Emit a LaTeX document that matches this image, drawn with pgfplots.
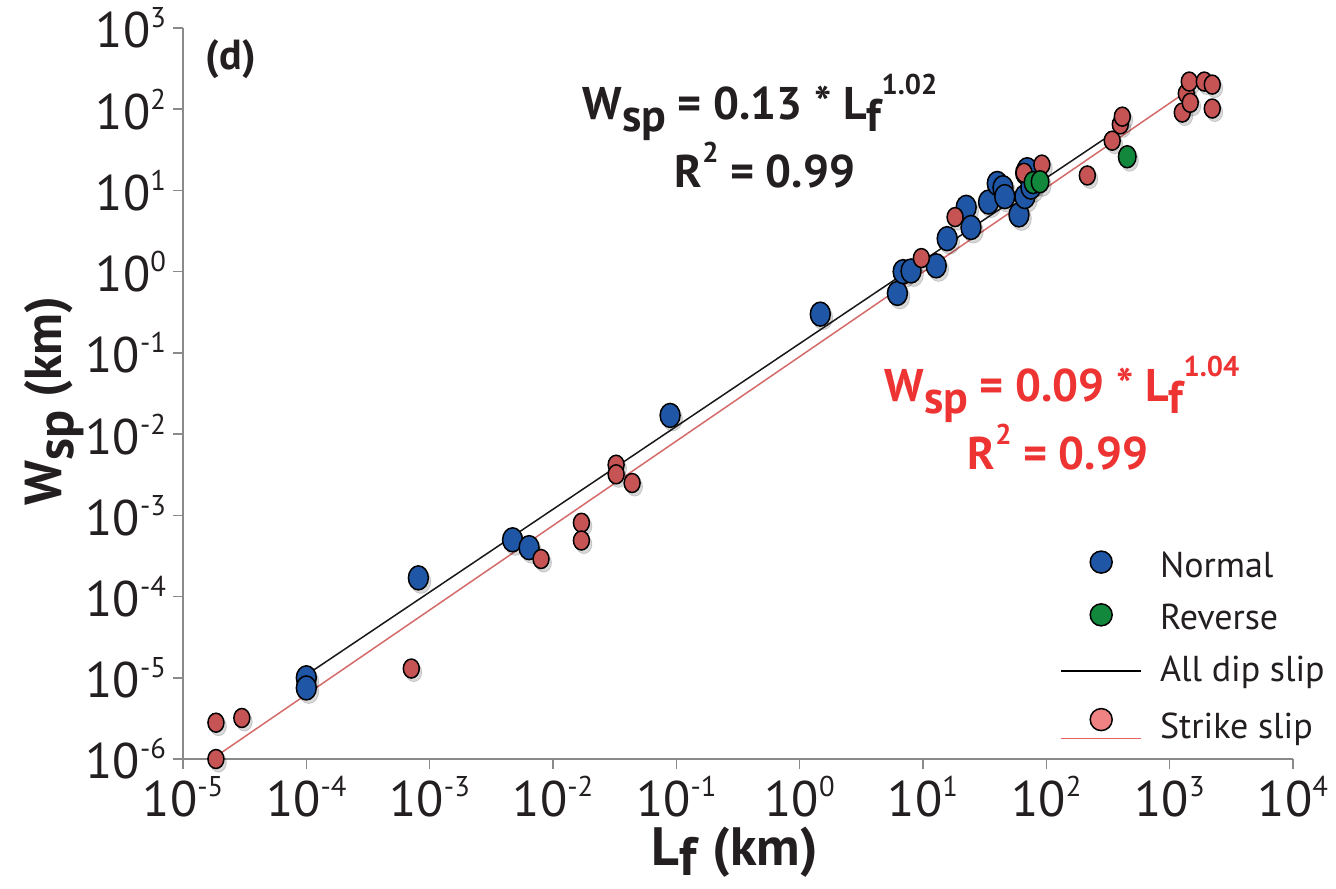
\documentclass[border=0pt]{standalone}
\usepackage{fontspec}
\setmainfont{PT Sans}
\usepackage{pgfplots}
\usepackage{pgfplotstable}
\pgfplotsset{compat=1.18}

\definecolor{nblue}{HTML}{1F56A6}
\definecolor{sred}{HTML}{C65454}
\definecolor{rgreen}{HTML}{12883D}
\definecolor{axgray}{HTML}{8A8A8A}
\definecolor{txt}{HTML}{231F20}
\definecolor{eqred}{HTML}{EE3333}
\definecolor{lred}{HTML}{D46A6A}
\definecolor{legred}{HTML}{EF8282}
\definecolor{leglred}{HTML}{E86060}

\newcommand\tl[1]{10\raisebox{10pt}{\fontsize{14.3}{14.3}\selectfont #1}}
\newcommand\subx[1]{\raisebox{-6pt}{#1}}
\newcommand\supx[1]{\raisebox{12.5pt}{\fontsize{14.3}{14.3}\selectfont #1}}

\pgfplotstableread{
x y
1e-4 1.0e-5
1e-4 7.5e-6
8.1e-4 1.7e-4
4.7e-3 5.0e-4
6.4e-3 4.0e-4
0.089 0.017
1.47 0.30
6.2 0.54
6.9 1.0
8.0 1.02
12.8 1.18
15.7 2.55
22.4 6.2
24.5 3.5
34 7.2
40 12.2
44.5 10.8
46 8.4
60 5.0
67 8.4
68 16.5
70 18
75 11
}\normaltab

\pgfplotstableread{
x y
1.85e-5 1.0e-6
1.85e-5 2.8e-6
3.0e-5 3.2e-6
7.1e-4 1.3e-5
8.0e-3 2.9e-4
0.017 8.1e-4
0.017 4.9e-4
0.0325 4.2e-3
0.0325 3.2e-3
0.0438 2.5e-3
9.7 1.47
18.2 4.7
66 16.5
92 20.8
215 15.3
342 41
398 65
413 81
1265 91
1364 156
1442 219
1469 120
1909 219
2215 201
2215 102
}\striketab

\pgfplotstableread{
x y
78 12.5
89 12.8
453 26
}\reversetab

\begin{document}
\begin{tikzpicture}[x=1pt,y=1pt]
\useasboundingbox (-91.5,-64.5) rectangle (576.5,379.5);
\begin{axis}[
  at={(0,0)}, anchor=south west,
  scale only axis, width=555pt, height=365.5pt,
  xmode=log, ymode=log,
  xmin=1e-5, xmax=1e4, ymin=1e-6, ymax=1e3,
  axis lines*=left,
  axis line style={draw=axgray, line width=0.75pt},
  tick style={draw=axgray, line width=0.75pt},
  tick align=outside, major tick length=5pt,
  xminorticks=false, yminorticks=false,
  xtick={1e-5,1e-4,1e-3,1e-2,1e-1,1,10,100,1000,10000},
  xticklabels={\tl{-5},\tl{-4},\tl{-3},\tl{-2},\tl{-1},\tl{0},\tl{1},\tl{2},\tl{3},\tl{4}},
  ytick={1e-6,1e-5,1e-4,1e-3,1e-2,1e-1,1,10,100,1000},
  yticklabels={\tl{-6},\tl{-5},\tl{-4},\tl{-3},\tl{-2},\tl{-1},\tl{0},\tl{1},\tl{2},\tl{3}},
  ticklabel style={font=\fontsize{25}{25}\selectfont, text=txt},
  clip=false,
  legend style={at={(axis description cs:0.79,0.286)}, anchor=north west,
    draw=none, fill=none, inner sep=0pt, row sep=9pt, column sep=9pt,
    font=\fontsize{18}{18}\selectfont,
    nodes={inner sep=0pt, text height=13pt, text depth=4pt, text=txt}},
  legend cell align=left,
]
% shadows
\addplot[forget plot, only marks, mark=*, mark size=6pt, mark options={xscale=0.83, fill=black, draw=none, opacity=0.15, xshift=1.5pt, yshift=-1.8pt}] table {\normaltab};
\addplot[forget plot, only marks, mark=*, mark size=4.75pt, mark options={xscale=0.84, fill=black, draw=none, opacity=0.15, xshift=1.5pt, yshift=-1.8pt}] table {\striketab};
\addplot[forget plot, only marks, mark=*, mark size=5.5pt, mark options={xscale=0.8, fill=black, draw=none, opacity=0.15, xshift=1.5pt, yshift=-1.8pt}] table {\reversetab};
% markers
\addplot[forget plot, only marks, mark=*, mark size=6pt, mark options={xscale=0.83, fill=nblue, draw=black, line width=0.75pt}] table {\normaltab};
\addplot[forget plot, only marks, mark=*, mark size=4.75pt, mark options={xscale=0.84, fill=sred, draw=black, line width=0.75pt}] table {\striketab};
\addplot[forget plot, only marks, mark=*, mark size=5.5pt, mark options={xscale=0.8, fill=rgreen, draw=black, line width=0.75pt}] table {\reversetab};
% fit lines
\addplot[forget plot, black!90, line width=0.75pt] coordinates {(1e-4,1.083e-5) (420,61.7)};
\addplot[forget plot, lred, line width=0.75pt] coordinates {(1.85e-5,1.077e-6) (1500,181)};
% legend
\addlegendimage{legend image code/.code={\path[draw=none] (0pt,0pt) -- (40pt,0pt); \draw[fill=nblue, draw=black, line width=0.75pt] (20pt,3pt) circle (5.5pt);}}
\addlegendentry{Normal}
\addlegendimage{legend image code/.code={\path[draw=none] (0pt,0pt) -- (40pt,0pt); \draw[fill=rgreen, draw=black, line width=0.75pt] (20pt,3pt) circle (5.5pt);}}
\addlegendentry{Reverse}
\addlegendimage{legend image code/.code={\draw[black, line width=0.75pt] (0pt,1pt) -- (40pt,1pt);}}
\addlegendentry{All dip slip}
\addlegendimage{legend image code/.code={\draw[leglred, line width=0.9pt] (0pt,-4.5pt) -- (40pt,-4.5pt); \draw[fill=legred, draw=black, line width=0.75pt] (20pt,5pt) circle (5.5pt);}}
\addlegendentry{Strike slip}
\end{axis}
% texts
\node[anchor=base, font=\fontsize{21}{21}\selectfont\bfseries, text=txt] at (24,344.5) {(d)};
\node[anchor=base, font=\fontsize{22.9}{22.9}\selectfont\bfseries, text=txt] at (288.5,319.5) {W\subx{sp} = 0.13 * L\subx{f}\supx{1.02}};
\node[anchor=base, font=\fontsize{22.9}{22.9}\selectfont\bfseries, text=txt] at (291,285.5) {R\supx{2} = 0.99};
\node[anchor=base, font=\fontsize{22.9}{22.9}\selectfont\bfseries, text=eqred] at (439.5,178.5) {W\subx{sp} = 0.09 * L\subx{f}\supx{1.04}};
\node[anchor=base, font=\fontsize{22.9}{22.9}\selectfont\bfseries, text=eqred] at (437.5,144.5) {R\supx{2} = 0.99};
\node[anchor=base, font=\fontsize{27}{27}\selectfont\bfseries, text=txt, inner sep=0pt] at (276,-53) {L\raisebox{-5pt}{f}\hspace{1pt} (km)};
\node[anchor=base, rotate=90, font=\fontsize{26}{26}\selectfont\bfseries, text=txt] at (-60.5,179) {W\subx{sp} (km)};
\end{tikzpicture}
\end{document}
